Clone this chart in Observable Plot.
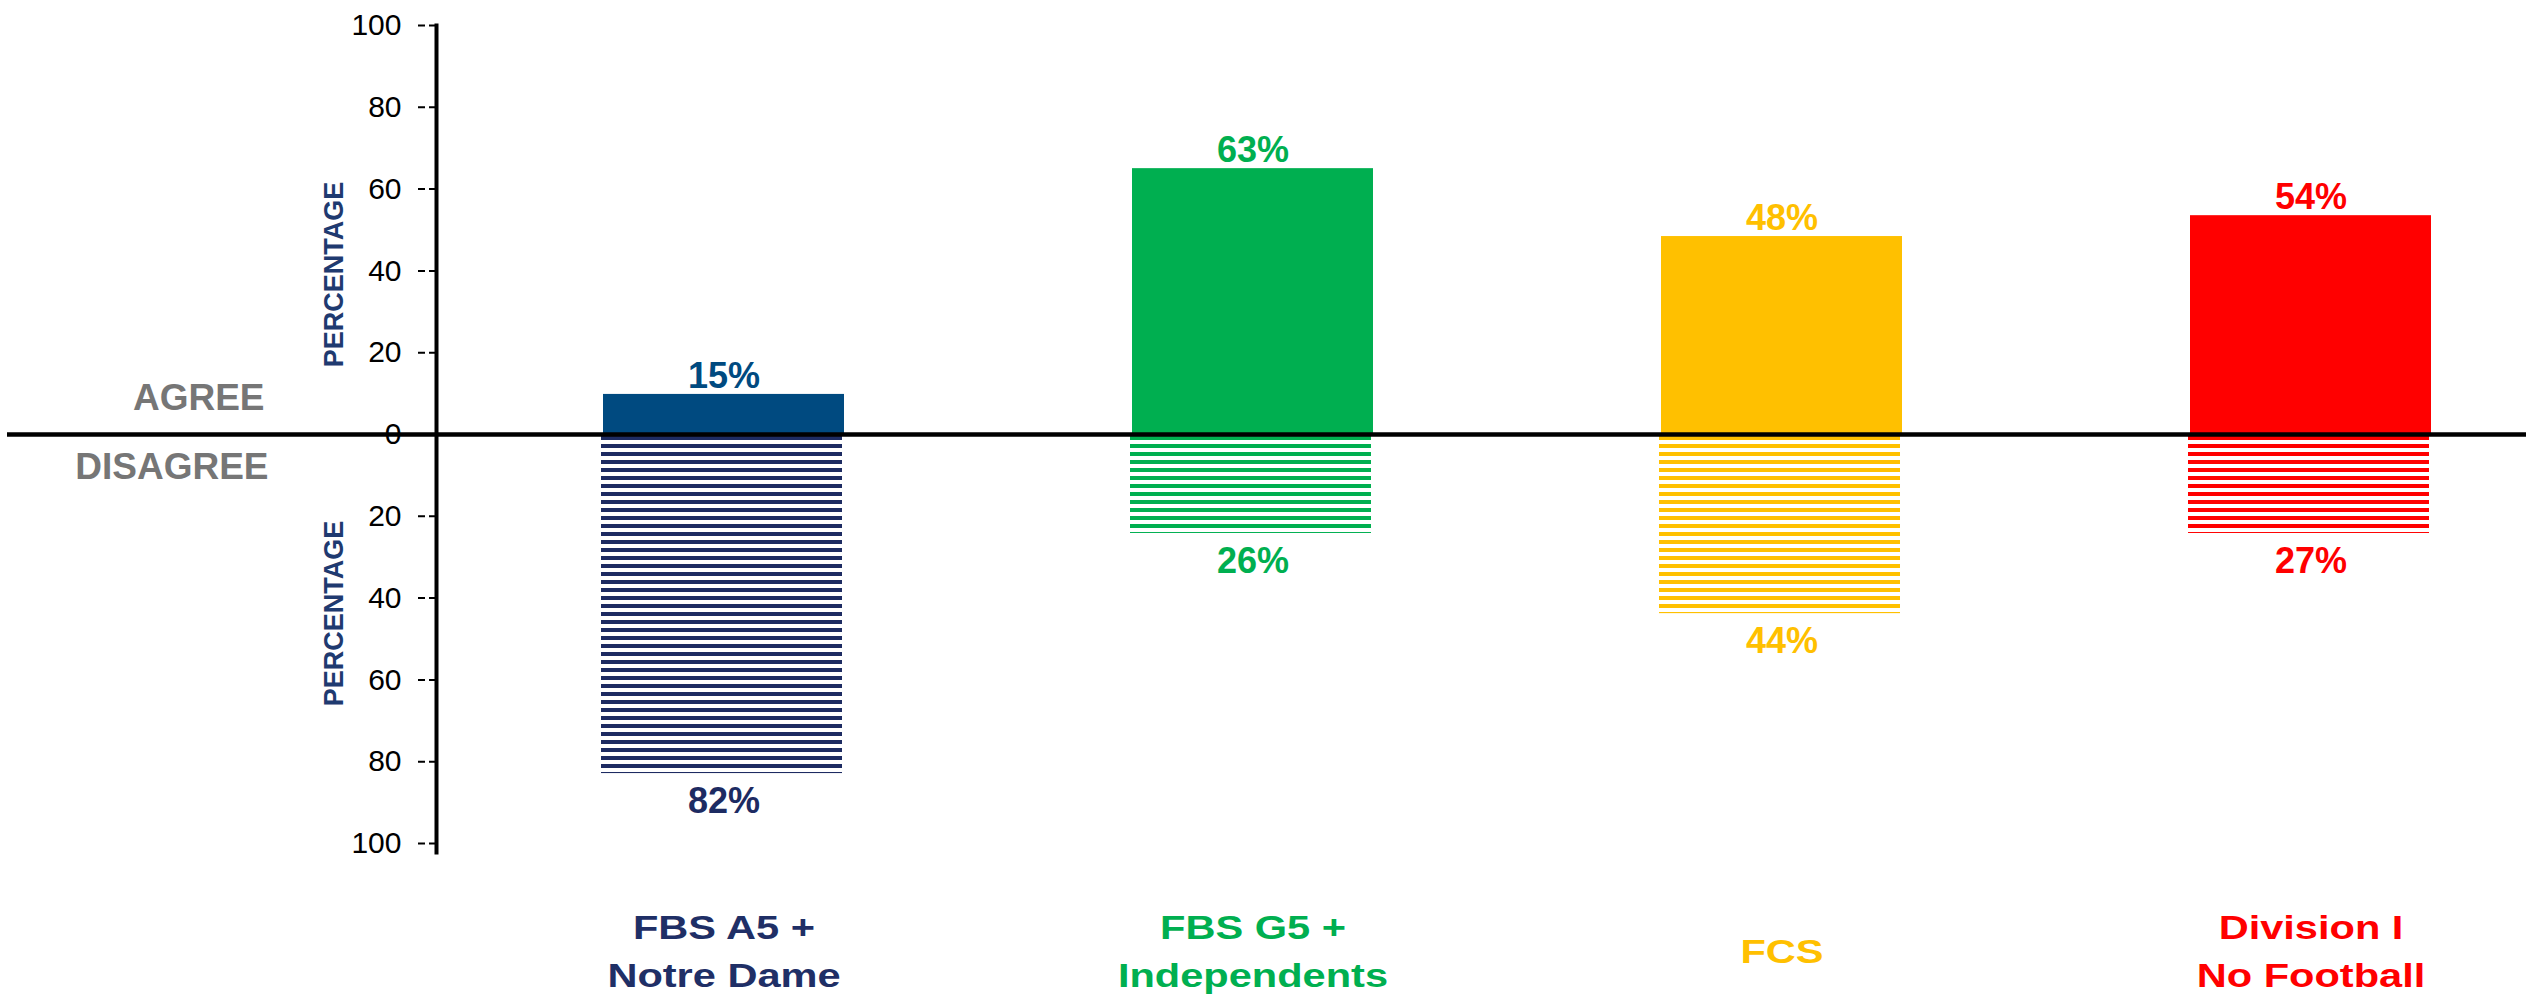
<!DOCTYPE html>
<html><head><meta charset="utf-8">
<script src="https://cdn.jsdelivr.net/npm/d3@7"></script>
<script src="https://cdn.jsdelivr.net/npm/@observablehq/plot@0.6"></script>
<style>html,body{margin:0;padding:0;background:#fff} svg{display:block}</style>
</head><body><div id="chart"></div>
<script>
// ---- data ----
const categories = ["FBS A5 + Notre Dame", "FBS G5 + Independents", "FCS", "Division I No Football"];
const categoryLines = ["FBS A5 +\nNotre Dame", "FBS G5 +\nIndependents", "FCS", "Division I\nNo Football"];
const agreeValues = [9.8, 65, 48.4, 53.5];      // bar heights as drawn
const disagreeValues = [82.9, 24.2, 43.8, 24.2]; // bar depths as drawn
const agreeLabels = ["15%", "63%", "48%", "54%"];
const disagreeLabels = ["82%", "26%", "44%", "27%"];
const yTicks = [-100, -80, -60, -40, -20, 0, 20, 40, 60, 80, 100];

// ---- styles ----
const agreeColors = ["#004A80", "#00AF50", "#FFC000", "#FF0000"];
const disagreeColors = ["#1D2B62", "#00AF50", "#FFC000", "#FF0000"];
const labelColors = ["#1F2F66", "#00AF50", "#FFC000", "#FF0000"];
const font = "'Liberation Sans', Arial, Helvetica, sans-serif";

const rows = categories.map((c, i) => ({
  category: c, i,
  agree: agreeValues[i],
  disagree: -disagreeValues[i]
}));

const svg = Plot.plot({
  width: 2526, height: 1005,
  marginTop: 25, marginBottom: 162, marginLeft: 436, marginRight: 0,
  style: {fontFamily: font, background: "white", overflow: "visible"},
  x: {domain: categories, paddingInner: 0.5447, paddingOuter: 0.2466, align: 0.636, axis: null},
  y: {domain: [-100, 100], axis: null, label: null},
  color: {type: "identity"},
  marks: [
    Plot.barY(rows, {x: "category", y1: 0, y2: "agree", fill: d => agreeColors[d.i]}),
    Plot.barY(rows, {x: "category", y1: 0, y2: "disagree", fill: d => `url(#hatch${d.i})`, dx: -2}),
    Plot.ruleY([0], {stroke: "black", strokeWidth: 4.5, insetLeft: -429}),
    Plot.frame({anchor: "left", stroke: "black", strokeWidth: 4, insetBottom: -9}),
    Plot.axisY(yTicks, {
      tickSize: 22, tickPadding: 13, strokeWidth: 2, strokeDasharray: "7,4",
      fontSize: 30, tickFormat: d => Math.abs(d), fill: "black", stroke: "black", label: null
    }),
    Plot.text(rows, {
      x: "category", y: "agree", text: d => agreeLabels[d.i], fill: d => agreeColors[d.i],
      dy: -18, fontSize: 36, fontWeight: "bold", lineAnchor: "middle"
    }),
    Plot.text(rows, {
      x: "category", y: "disagree", text: d => disagreeLabels[d.i], fill: d => disagreeColors[d.i],
      dy: 28, fontSize: 36, fontWeight: "bold", lineAnchor: "middle"
    }),
    Plot.text(rows, {
      x: "category", frameAnchor: "bottom", text: d => categoryLines[d.i], fill: d => labelColors[d.i],
      dy: 104, fontSize: 33, fontWeight: "bold", lineAnchor: "middle", lineHeight: 1.45
    }),
    Plot.text(["PERCENTAGE"], {
      frameAnchor: "left", textAnchor: "middle", rotate: -90, dx: -102, dy: -160,
      fill: "#1F3A70", fontSize: 27, fontWeight: "bold", lineAnchor: "middle"
    }),
    Plot.text(["PERCENTAGE"], {
      frameAnchor: "left", textAnchor: "middle", rotate: -90, dx: -102, dy: 179,
      fill: "#1F3A70", fontSize: 27, fontWeight: "bold", lineAnchor: "middle"
    }),
    Plot.text(["AGREE"], {
      frameAnchor: "left", textAnchor: "end", dx: -172, dy: -36,
      fill: "#767676", fontSize: 37, fontWeight: "bold", lineAnchor: "middle"
    }),
    Plot.text(["DISAGREE"], {
      frameAnchor: "left", textAnchor: "end", dx: -168, dy: 33,
      fill: "#767676", fontSize: 37, fontWeight: "bold", lineAnchor: "middle"
    })
  ]
});

// hatch patterns for the "disagree" bars
const defs = d3.select(svg).insert("defs", ":first-child");
disagreeColors.forEach((c, i) => {
  const p = defs.append("pattern")
    .attr("id", `hatch${i}`)
    .attr("patternUnits", "userSpaceOnUse")
    .attr("width", 8).attr("height", 8);
  p.append("rect").attr("x", 0).attr("y", 4).attr("width", 8).attr("height", 4).attr("fill", c);
});

// category labels in the reference are set wide
const labelTexts = new Set(categoryLines.map(s => s.replace(/\n/g, "")));
d3.select(svg).selectAll("text").each(function () {
  if (!labelTexts.has(this.textContent)) return;
  const t = this.getAttribute("transform") || "";
  this.setAttribute("transform", t + " scale(1.26,1)");
});

document.getElementById("chart").appendChild(svg);
</script>
</body></html>
